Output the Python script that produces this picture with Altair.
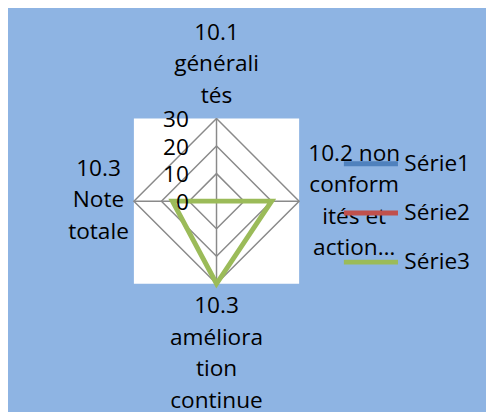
import altair as alt
import pandas as pd

# ---- data ----
categories = ["10.1 généralités", "10.2 non conformités et action…",
              "10.3 amélioration continue", "10.3 Note totale"]
category_lines = [["10.1", "générali", "tés"],
                  ["10.2 non", "conform", "ités et", "action…"],
                  ["10.3", "améliora", "tion", "continue"],
                  ["10.3", "Note", "totale"]]
series_names = ["Série1", "Série2", "Série3"]
serie1 = [0, 0, 0, 0]
serie2 = [0, 0, 0, 0]
serie3 = [0, 20, 30, 16]
grid_levels = [10, 20, 30]
tick_labels = ["0", "10", "20", "30"]
axis_max = 30
colors = ["#4F81BD", "#C0504D", "#9BBB59"]

n = len(categories)
FONT = "Open Sans"
FS = 23

# ---- tables built from the arrays ----
rows = []
for s, vals in zip(series_names, [serie1, serie2, serie3]):
    for k in range(n + 1):
        rows.append({"serie": s, "idx": k % n, "order": k, "value": vals[k % n]})
series_df = pd.DataFrame(rows)

grid_rows = []
for lv in grid_levels:
    for k in range(n + 1):
        grid_rows.append({"level": lv, "idx": k % n, "order": k, "value": lv})
grid_df = pd.DataFrame(grid_rows)

spoke_df = pd.DataFrame({"idx": list(range(n)), "value": [axis_max] * n})
tick_df = pd.DataFrame({"label": tick_labels, "value": [float(t) for t in tick_labels],
                        "zero": [0.0] * len(tick_labels)})
cat_df = pd.DataFrame({"idx": list(range(n)), "lines": category_lines,
                       "value": [axis_max] * n})

xs = alt.Scale(domain=[-axis_max, axis_max], nice=False, zero=False)
ys = alt.Scale(domain=[-axis_max, axis_max], nice=False, zero=False)


def polar(chart):
    return chart.transform_calculate(
        x=f"datum.value * sin(datum.idx * 2 * PI / {n})",
        y=f"datum.value * cos(datum.idx * 2 * PI / {n})",
        zero="0",
    )


X = alt.X("x:Q", scale=xs, axis=None)
Y = alt.Y("y:Q", scale=ys, axis=None)

grid = polar(alt.Chart(grid_df)).mark_line(color="#8A8A8A", strokeWidth=1.5).encode(
    x=X, y=Y, detail="level:N", order="order:Q")

spokes = polar(alt.Chart(spoke_df)).mark_rule(color="#8A8A8A", strokeWidth=1.5).encode(
    x=alt.X("zero:Q", scale=xs, axis=None), y=alt.Y("zero:Q", scale=ys, axis=None),
    x2="x:Q", y2="y:Q")

lines = polar(alt.Chart(series_df)).mark_line(strokeWidth=5, strokeJoin="miter").encode(
    x=X, y=Y, order="order:Q",
    color=alt.Color("serie:N", scale=alt.Scale(domain=series_names, range=colors),
                    legend=alt.Legend(title=None, orient="none", legendX=211, legendY=16,
                                      symbolType="stroke", symbolSize=3025,
                                      symbolStrokeWidth=5, labelFontSize=FS,
                                      labelFont=FONT, labelColor="black",
                                      labelOffset=4, rowPadding=8, padding=0)))

ticks = alt.Chart(tick_df).mark_text(
    align="right", baseline="middle", dx=-28, dy=2, fontSize=FS, font=FONT,
    color="black").encode(
    x=alt.X("zero:Q", scale=xs, axis=None), y=alt.Y("value:Q", scale=ys, axis=None),
    text="label:N")

label_offsets = [(0, -87), (56, -48), (0, 23), (-36, -33)]
cat_layers = []
for k, (ddx, ddy) in enumerate(label_offsets):
    cat_layers.append(
        polar(alt.Chart(cat_df)).transform_filter(f"datum.idx == {k}").mark_text(
            align="center", baseline="middle", dx=ddx, dy=ddy, fontSize=FS,
            font=FONT, color="black", lineHeight=32).encode(
            x=X, y=Y, text="lines"))

chart = alt.layer(grid, spokes, lines, ticks, *cat_layers).properties(
    width=168, height=168,
    padding={"left": 128, "top": 109, "right": 190, "bottom": 127},
    autosize="none",
    background="#8EB4E3",
).configure_view(fill="white", stroke=None)

chart.save("out.html", embed_options={"renderer": "svg", "actions": False})
